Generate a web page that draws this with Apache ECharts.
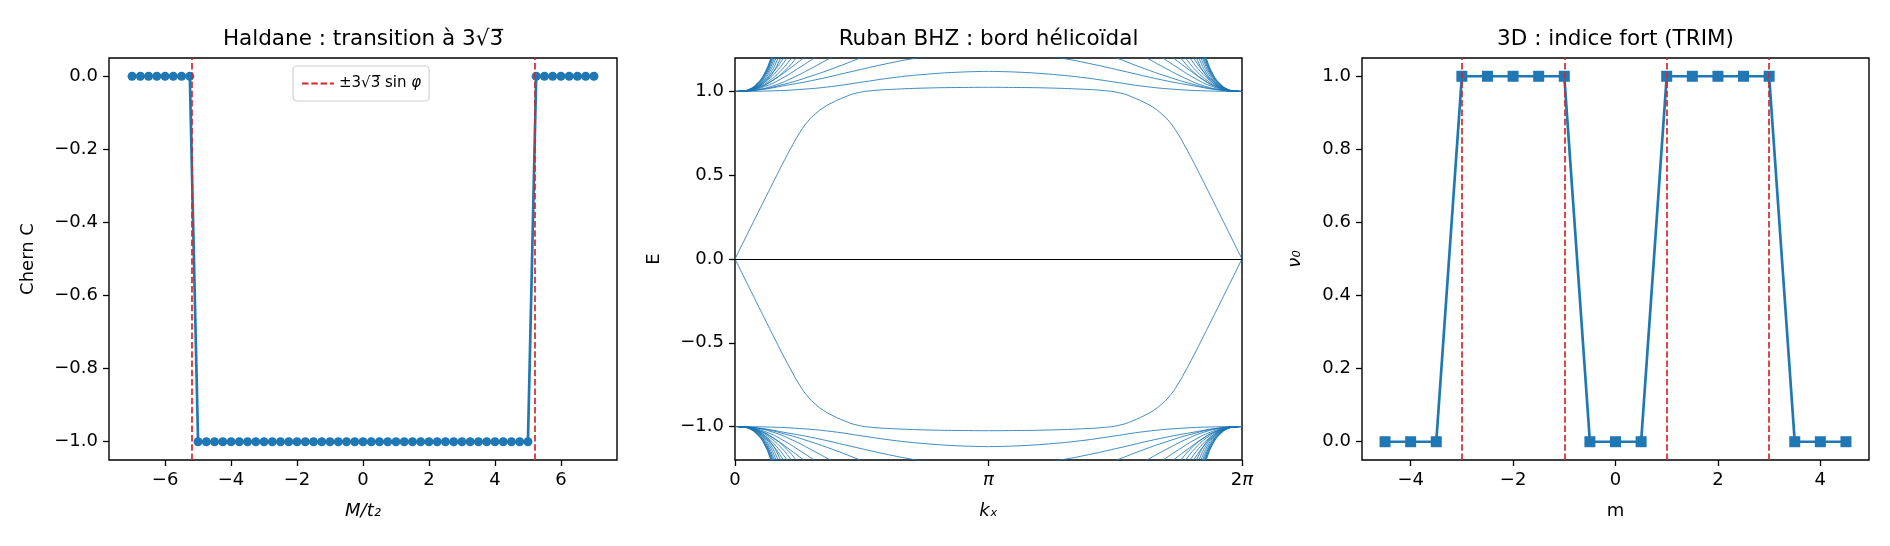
<!DOCTYPE html>
<html>
<head>
<meta charset="utf-8">
<script src="https://cdn.jsdelivr.net/npm/echarts@6/dist/echarts.min.js"></script>
<style>
  html, body { margin: 0; padding: 0; background: #fff; }
  #chart { width: 1890px; height: 546px; }
</style>
</head>
<body>
<div id="chart"></div>
<script>
// ---- panel 1 : Haldane, Chern number vs M/t2
const haldaneM = [-7, -6.75, -6.5, -6.25, -6, -5.75, -5.5, -5.25, -5, -4.75, -4.5, -4.25, -4, -3.75, -3.5, -3.25,
  -3, -2.75, -2.5, -2.25, -2, -1.75, -1.5, -1.25, -1, -0.75, -0.5, -0.25, 0, 0.25, 0.5, 0.75, 1, 1.25, 1.5, 1.75,
  2, 2.25, 2.5, 2.75, 3, 3.25, 3.5, 3.75, 4, 4.25, 4.5, 4.75, 5, 5.25, 5.5, 5.75, 6, 6.25, 6.5, 6.75, 7];
const haldaneC = [0, 0, 0, 0, 0, 0, 0, 0,
  -1, -1, -1, -1, -1, -1, -1, -1, -1, -1, -1, -1, -1, -1, -1, -1, -1, -1, -1, -1, -1, -1, -1,
  -1, -1, -1, -1, -1, -1, -1, -1, -1, -1, -1, -1, -1, -1, -1, -1, -1, -1,
  0, 0, 0, 0, 0, 0, 0, 0];
const haldaneTransitions = [-5.196, 5.196];

// ---- panel 2 : BHZ ribbon, bands read on 0 <= kx <= pi, E > 0 (the plot is symmetric in kx -> 2pi-kx and E -> -E)
const edgeBand = [[0, 0], [0.1, 0.097], [0.2, 0.194], [0.3, 0.291], [0.4, 0.387], [0.5, 0.483], [0.6, 0.578],
  [0.7, 0.668], [0.8, 0.752], [0.9, 0.82], [1.0, 0.868], [1.1, 0.905], [1.2, 0.932], [1.35, 0.965], [1.5, 0.99],
  [1.7, 1.005], [2.0, 1.014], [2.4, 1.021], [2.8, 1.024], [3.1416, 1.025]];
const bulkBands = [
  [[0, 1], [0.4, 1.003], [0.8, 1.012], [1.2, 1.03], [1.6, 1.058], [2.0, 1.085], [2.4, 1.104], [2.8, 1.116], [3.1416, 1.12]],
  [[0, 1], [0.3, 1.01], [0.6, 1.034], [1.0, 1.07], [1.5, 1.125], [1.9, 1.168], [2.25, 1.2], [2.7, 1.232], [3.1416, 1.245]],
  [[0, 1], [0.31, 1.012], [0.62, 1.045], [0.93, 1.09], [1.24, 1.142], [1.55, 1.2], [1.86, 1.258]],
  [[0, 1], [0.236, 1.008], [0.472, 1.034], [0.708, 1.08], [0.944, 1.138], [1.18, 1.2], [1.416, 1.264]],
  [[0, 1], [0.196, 1.008], [0.392, 1.034], [0.588, 1.08], [0.784, 1.138], [0.98, 1.2], [1.176, 1.264]],
  [[0, 1], [0.17, 1.008], [0.34, 1.034], [0.51, 1.08], [0.68, 1.138], [0.85, 1.2], [1.02, 1.264]],
  [[0, 1], [0.152, 1.005], [0.304, 1.024], [0.456, 1.062], [0.608, 1.12], [0.76, 1.2], [0.912, 1.29]],
  [[0, 1], [0.14, 1.005], [0.28, 1.024], [0.42, 1.062], [0.56, 1.12], [0.70, 1.2], [0.84, 1.29]],
  [[0, 1], [0.129, 1.005], [0.258, 1.024], [0.387, 1.062], [0.516, 1.12], [0.645, 1.2], [0.774, 1.29]],
  [[0, 1], [0.12, 1.005], [0.24, 1.024], [0.36, 1.062], [0.48, 1.12], [0.60, 1.2], [0.72, 1.29]],
  [[0, 1], [0.113, 1.002], [0.226, 1.013], [0.339, 1.044], [0.452, 1.1], [0.565, 1.2], [0.678, 1.32]],
  [[0, 1], [0.107, 1.002], [0.214, 1.013], [0.321, 1.044], [0.428, 1.1], [0.535, 1.2], [0.642, 1.32]],
  [[0, 1], [0.102, 1.002], [0.204, 1.013], [0.306, 1.044], [0.408, 1.1], [0.51, 1.2], [0.612, 1.32]],
  [[0, 1], [0.098, 1.002], [0.196, 1.013], [0.294, 1.044], [0.392, 1.1], [0.49, 1.2], [0.588, 1.32]],
  [[0, 1], [0.095, 1.002], [0.19, 1.013], [0.285, 1.044], [0.38, 1.1], [0.475, 1.2], [0.57, 1.32]],
  [[0, 1], [0.093, 1.002], [0.186, 1.013], [0.279, 1.044], [0.372, 1.1], [0.465, 1.2], [0.558, 1.32]],
  [[0, 1], [0.091, 1.002], [0.183, 1.013], [0.274, 1.044], [0.366, 1.1], [0.457, 1.2], [0.548, 1.32]],
  [[0, 1], [0.09, 1.002], [0.18, 1.013], [0.27, 1.044], [0.36, 1.1], [0.45, 1.2], [0.54, 1.32]],
  [[0, 1], [0.089, 1.002], [0.178, 1.013], [0.267, 1.044], [0.356, 1.1], [0.445, 1.2], [0.534, 1.32]]
];

// ---- panel 3 : strong index nu0 vs m
const trimM = [-4.5, -4, -3.5, -3, -2.5, -2, -1.5, -1, -0.5, 0, 0.5, 1, 1.5, 2, 2.5, 3, 3.5, 4, 4.5];
const trimNu0 = [0, 0, 0, 1, 1, 1, 1, 1, 0, 0, 0, 1, 1, 1, 1, 1, 0, 0, 0];
const trimTransitions = [-3, -1, 1, 3];

const PI = Math.PI;
const BLUE = '#1f77b4';
const RED = '#d62728';
const FONT = 'DejaVu Sans';
const FS = 18;
const dash = [6.5, 2.8];

const minus = v => (v < 0 ? '\u2212' : '') + Math.abs(v);
const minus1 = v => (v < -1e-9 ? '\u2212' : '') + Math.abs(v).toFixed(1);

function axis(ticks, formatter, extra) {
  return Object.assign({
    type: 'value',
    axisLine: { show: false, onZero: false },
    axisTick: { show: true, length: 6, lineStyle: { color: '#000', width: 1.3 }, customValues: ticks },
    splitLine: { show: false },
    axisLabel: { color: '#000', fontSize: FS, fontFamily: FONT, margin: 11, customValues: ticks, formatter: formatter,
      rich: { i: { fontStyle: 'italic', fontSize: FS, fontFamily: FONT, color: '#000' } } },
    nameLocation: 'middle',
    nameTextStyle: { color: '#000', fontSize: FS, fontFamily: FONT }
  }, extra);
}

const grids = [
  { left: 109, top: 58, width: 508, height: 402 },
  { left: 735, top: 58, width: 507, height: 402 },
  { left: 1362, top: 58, width: 507, height: 402 }
].map(g => Object.assign(g, { show: true, borderColor: '#000', borderWidth: 1.4, backgroundColor: 'transparent' }));

const xTicks1 = [-6, -4, -2, 0, 2, 4, 6];
const yTicks1 = [-1, -0.8, -0.6, -0.4, -0.2, 0];
const xTicks2 = [0, PI, 2 * PI];
const yTicks2 = [-1, -0.5, 0, 0.5, 1];
const xTicks3 = [-4, -2, 0, 2, 4];
const yTicks3 = [0, 0.2, 0.4, 0.6, 0.8, 1];
const piLabel = v => v < 1e-6 ? '0' : (Math.abs(v - PI) < 1e-6 ? '{i|\u03c0}' : '2{i|\u03c0}');
const italicName = { color: '#000', fontSize: FS, fontFamily: FONT, fontStyle: 'italic' };

const xAxes = [
  axis(xTicks1, minus, { gridIndex: 0, min: -7.7, max: 7.7, name: 'M/t\u2082', nameGap: 42, nameTextStyle: italicName }),
  axis(xTicks2, piLabel, { gridIndex: 1, min: 0, max: 2 * PI, name: 'k\u2093', nameGap: 42, nameTextStyle: italicName }),
  axis(xTicks3, minus, { gridIndex: 2, min: -4.95, max: 4.95, name: 'm', nameGap: 42 })
];

const yAxes = [
  axis(yTicks1, minus1, { gridIndex: 0, min: -1.05, max: 0.05, name: 'Chern C', nameGap: 72 }),
  axis(yTicks2, minus1, { gridIndex: 1, min: -1.2, max: 1.2, name: 'E', nameGap: 72 }),
  axis(yTicks3, minus1, { gridIndex: 2, min: -0.05, max: 1.05, name: '\u03bd\u2080', nameGap: 58, nameTextStyle: italicName })
];

const legendName = '\u00b13\u221a3\u0305 sin \u03c6';

const series = [];

// panel 1
series.push({
  type: 'line', xAxisIndex: 0, yAxisIndex: 0, z: 3,
  data: haldaneM.map((m, i) => [m, haldaneC[i]]),
  symbol: 'circle', symbolSize: 9, showSymbol: true,
  lineStyle: { color: BLUE, width: 2.7 }, itemStyle: { color: BLUE }
});
series.push({
  type: 'line', name: legendName, xAxisIndex: 0, yAxisIndex: 0, z: 4,
  data: [], symbol: 'none',
  lineStyle: { color: RED, width: 1.7, type: dash }, itemStyle: { color: RED },
  markLine: {
    silent: true, symbol: 'none', label: { show: false }, animation: false,
    lineStyle: { color: RED, width: 1.7, type: dash },
    data: haldaneTransitions.map(x => ({ xAxis: x }))
  }
});

// panel 2 : each read band is drawn in its four mirror copies
const quadrants = [[false, 1], [true, 1], [false, -1], [true, -1]];
[edgeBand].concat(bulkBands).forEach(band => {
  quadrants.forEach(([flipK, sign]) => {
    series.push({
      type: 'line', xAxisIndex: 1, yAxisIndex: 1, clip: true,
      data: band.map(([k, e]) => [flipK ? 2 * PI - k : k, sign * e]),
      symbol: 'none', smooth: 0.5, silent: true,
      lineStyle: { color: BLUE, width: 0.9, opacity: 0.95 }
    });
  });
});
series.push({
  type: 'line', xAxisIndex: 1, yAxisIndex: 1, data: [], symbol: 'none',
  markLine: {
    silent: true, symbol: 'none', label: { show: false }, animation: false,
    lineStyle: { color: '#000', width: 1.2, type: 'solid' },
    data: [{ yAxis: 0 }]
  }
});

// panel 3
series.push({
  type: 'line', xAxisIndex: 2, yAxisIndex: 2, z: 3,
  data: trimM.map((m, i) => [m, trimNu0[i]]),
  symbol: 'rect', symbolSize: 11, showSymbol: true,
  lineStyle: { color: BLUE, width: 2.7 }, itemStyle: { color: BLUE }
});
series.push({
  type: 'line', xAxisIndex: 2, yAxisIndex: 2, z: 4, data: [], symbol: 'none',
  markLine: {
    silent: true, symbol: 'none', label: { show: false }, animation: false,
    lineStyle: { color: RED, width: 1.7, type: dash },
    data: trimTransitions.map(x => ({ xAxis: x }))
  }
});

const titleStyle = { color: '#000', fontSize: 21.5, fontWeight: 'normal', fontFamily: FONT };

const option = {
  backgroundColor: '#fff',
  animation: false,
  title: [
    { text: 'Haldane : transition \u00e0 3\u221a3\u0305', left: 363, top: 28, textAlign: 'center', padding: 0, textStyle: titleStyle },
    { text: 'Ruban BHZ : bord h\u00e9lico\u00efdal', left: 988.5, top: 28, textAlign: 'center', padding: 0, textStyle: titleStyle },
    { text: '3D : indice fort (TRIM)', left: 1615.5, top: 28, textAlign: 'center', padding: 0, textStyle: titleStyle }
  ],
  legend: {
    data: [legendName], left: 293, top: 66,
    padding: [10, 8, 10, 8], itemWidth: 32, itemHeight: 14, itemGap: 10,
    backgroundColor: '#fff', borderColor: '#d0d0d0', borderWidth: 1.2, borderRadius: 4,
    itemStyle: { opacity: 0 },
    formatter: name => name.replace('\u03c6', '{i|\u03c6}'),
    textStyle: { color: '#000', fontSize: 15, fontFamily: FONT,
      rich: { i: { fontStyle: 'italic', fontSize: 15, fontFamily: FONT, color: '#000' } } },
    selectedMode: false
  },
  grid: grids,
  xAxis: xAxes,
  yAxis: yAxes,
  series: series
};

echarts.init(document.getElementById('chart'), null, { renderer: 'canvas' }).setOption(option);
</script>
</body>
</html>
